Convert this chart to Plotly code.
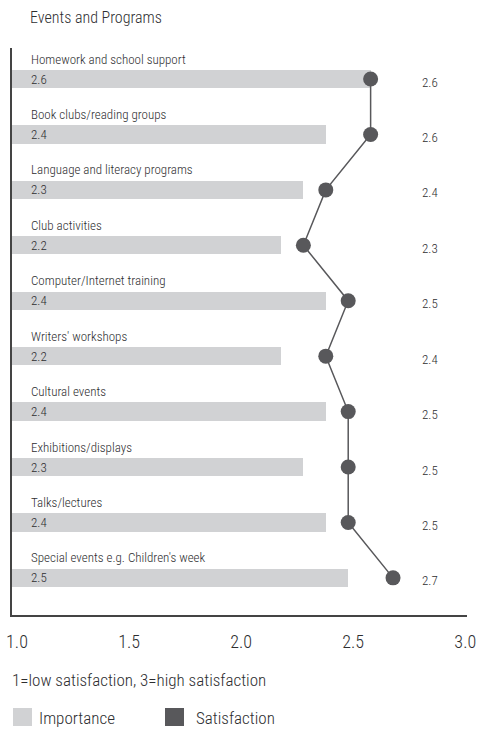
import plotly.graph_objects as go

# Events and programs: importance (bars) and satisfaction (dots), 1-3 scale
programs = [
    "Homework and school support",
    "Book clubs/reading groups",
    "Language and literacy programs",
    "Club activities",
    "Computer/Internet training",
    "Writers' workshops",
    "Cultural events",
    "Exhibitions/displays",
    "Talks/lectures",
    "Special events e.g. Children's week",
]
importance = [2.6, 2.4, 2.3, 2.2, 2.4, 2.2, 2.4, 2.3, 2.4, 2.5]
satisfaction = [2.6, 2.6, 2.4, 2.3, 2.5, 2.4, 2.5, 2.5, 2.5, 2.7]
tick_values = [1.0, 1.5, 2.0, 2.5, 3.0]
tick_labels = ["1.0", "1.5", "2.0", "2.5", "3.0"]

FONT = "Roboto Condensed, Liberation Sans Narrow, Roboto, sans-serif"
TEXT = "#2e2e30"
LIGHT = "#d1d2d4"
DARK = "#58585b"


def font(size):
    return dict(size=size, color=TEXT, family=FONT, weight=300)


rows = list(range(len(programs)))

fig = go.Figure()
fig.add_trace(go.Bar(
    x=importance, y=rows, orientation="h", width=0.33,
    marker=dict(color=LIGHT, line=dict(width=0)),
    hoverinfo="skip", showlegend=False,
))
fig.add_trace(go.Scatter(
    x=satisfaction, y=rows, mode="lines+markers",
    line=dict(color=DARK, width=1.5),
    marker=dict(color=DARK, size=15),
    cliponaxis=False, hoverinfo="skip", showlegend=False,
))

annotations = []
for i, (name, imp, sat) in enumerate(zip(programs, importance, satisfaction)):
    # category name above the bar
    annotations.append(dict(x=1.0, y=i, xref="x", yref="y", text=name,
                            xanchor="left", yanchor="middle", xshift=17, yshift=20,
                            showarrow=False, font=font(13)))
    # importance value inside the bar
    annotations.append(dict(x=1.0, y=i, xref="x", yref="y", text=f"{imp:.1f}",
                            xanchor="left", yanchor="middle", xshift=17, yshift=0,
                            showarrow=False, font=font(13)))
    # satisfaction value at the right
    annotations.append(dict(x=2.83, y=i, xref="x", yref="y", text=f"{sat:.1f}",
                            xanchor="left", yanchor="middle", xshift=-2, yshift=-3,
                            showarrow=False, font=font(13)))

W, H = 477, 731
ML, MR, MT, MB = 12, 10, 48, 116
pw, ph = W - ML - MR, H - MT - MB


def px_to_paper(px, py):
    return (px - ML) / pw, 1 - (py - MT) / ph


# title, scale note and legend text (pixel positions on the page)
page_texts = [
    (28, 18, "Events and Programs", 16),
    (10, 680, "1=low satisfaction, 3=high satisfaction", 17),
    (37, 718, "Importance", 17),
    (194, 718, "Satisfaction", 17),
]
for px, py, txt, size in page_texts:
    ax, ay = px_to_paper(px, py)
    annotations.append(dict(x=ax, y=ay, xref="paper", yref="paper", text=txt,
                            xanchor="left", yanchor="middle", showarrow=False,
                            font=font(size)))

shapes = []
for x0, color in [(13, LIGHT), (165, DARK)]:
    ax0, ay0 = px_to_paper(x0, 708)
    ax1, ay1 = px_to_paper(x0 + 19, 726)
    shapes.append(dict(type="rect", xref="paper", yref="paper", x0=ax0, x1=ax1,
                       y0=ay1, y1=ay0, fillcolor=color, line=dict(width=0)))

fig.update_layout(
    width=W, height=H,
    margin=dict(l=ML, r=MR, t=MT, b=MB, autoexpand=False),
    paper_bgcolor="white", plot_bgcolor="white",
    annotations=annotations, shapes=shapes,
    bargap=0,
    xaxis=dict(range=[1.0, 3.03], tickvals=tick_values, ticktext=tick_labels,
               showgrid=False, zeroline=False, showline=True, linecolor="#444",
               linewidth=1.5, ticks="", ticklabelshift=5, ticklabelstandoff=10,
               ticklabeloverflow="allow", automargin=False,
               tickfont=font(18), fixedrange=True),
    yaxis=dict(range=[9.67, -0.56], showgrid=False, zeroline=False, showline=True,
               linecolor="#444", linewidth=1.5, showticklabels=False, ticks="",
               automargin=False, fixedrange=True),
    showlegend=False,
)

fig.write_html("out.html")
